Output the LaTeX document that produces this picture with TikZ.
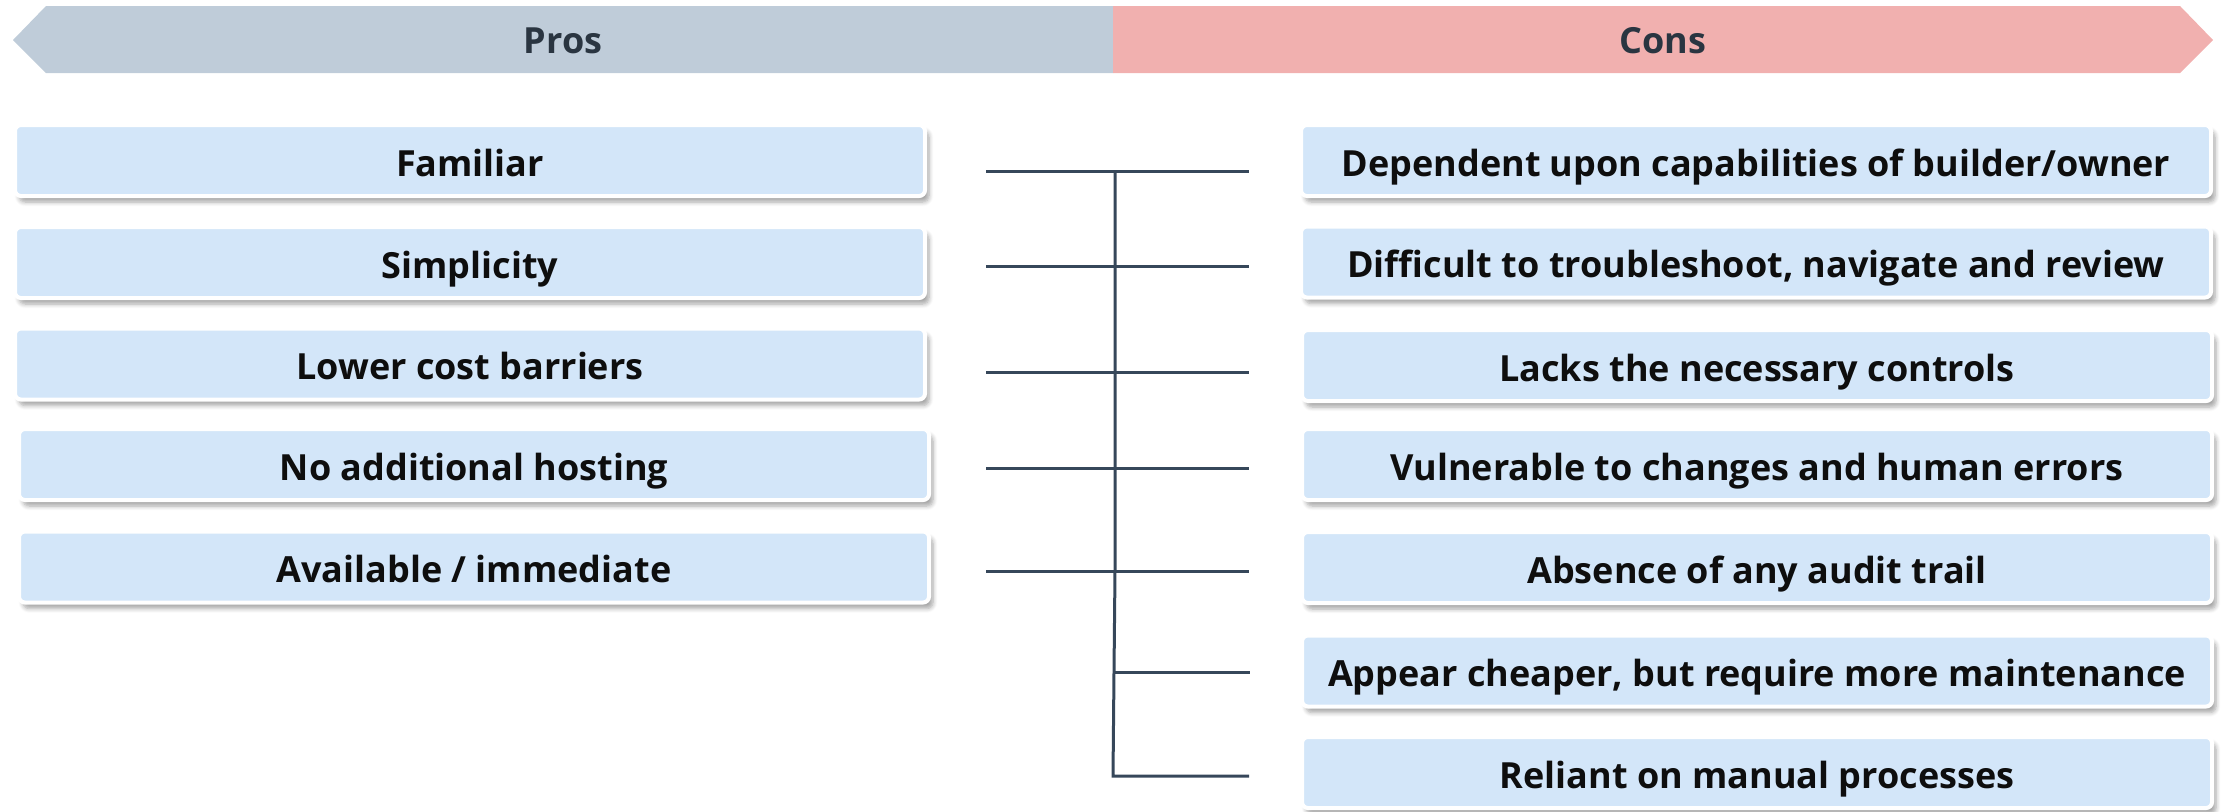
\documentclass[tikz,border=0pt]{standalone}
\usepackage{fontspec}
\setmainfont{Open Sans}
\usetikzlibrary{shadows.blur}
\definecolor{prosband}{HTML}{BFCCD9}
\definecolor{consband}{HTML}{F1B0AF}
\definecolor{boxfill}{HTML}{D3E6F9}
\definecolor{linecol}{HTML}{36475A}
\definecolor{headtxt}{HTML}{2A3541}
\definecolor{boxtxt}{HTML}{0E0E0E}
\tikzset{
  x=0.5pt, y=-0.5pt,
  itembox/.style={draw=white, line width=2pt, fill=boxfill, rounded corners=3pt,
    blur shadow={shadow xshift=2pt, shadow yshift=-3pt, shadow blur steps=6, shadow opacity=35},
    minimum width=455pt, minimum height=35.5pt, inner sep=0pt,
    text height=16.5pt, text depth=1pt,
    font=\fontsize{18}{22}\selectfont\bfseries, text=boxtxt},
  headtext/.style={font=\fontsize{18}{22}\selectfont\bfseries, text=headtxt,
    inner sep=0pt, text height=14.5pt, text depth=1pt},
  conn/.style={draw=linecol, line width=1.5pt},
}
\begin{document}
\begin{tikzpicture}
\useasboundingbox (0,0) rectangle (2226,811);
% banner
\fill[prosband] (13,40) -- (46,6) -- (1113,6) -- (1113,73) -- (46,73) -- cycle;
\fill[consband] (1113,6) -- (2180,6) -- (2213,40) -- (2180,73) -- (1113,73) -- cycle;
\node[headtext] (pros) at (563,39.5) {Pros};
\node[headtext] (cons) at (1663,39.5) {Cons};
% pros boxes
\node[itembox] (p1) at (470,160.5) {Familiar};
\node[itembox] (p2) at (470,262.5) {Simplicity};
\node[itembox] (p3) at (470,364) {Lower cost barriers};
\node[itembox] (p4) at (474,464.5) {No additional hosting};
\node[itembox] (p5) at (474,567) {Available / immediate};
% cons boxes
\node[itembox] (c1) at (1756,160.5) {Dependent upon capabilities of builder/owner};
\node[itembox] (c2) at (1756,262) {Difficult to troubleshoot, navigate and review};
\node[itembox] (c3) at (1757,365.5) {Lacks the necessary controls};
\node[itembox] (c4) at (1757,464.5) {Vulnerable to changes and human errors};
\node[itembox] (c5) at (1757,567.5) {Absence of any audit trail};
\node[itembox] (c6) at (1757,671) {Appear cheaper, but require more maintenance};
\node[itembox] (c7) at (1757,772.5) {Reliant on manual processes};
% connector coordinates
\coordinate (l1) at (986,171); \coordinate (j1) at (1115,171); \coordinate (r1) at (1249,171);
\coordinate (l2) at (986,266); \coordinate (j2) at (1115,266); \coordinate (r2) at (1249,266);
\coordinate (l3) at (986,372); \coordinate (j3) at (1115,372); \coordinate (r3) at (1249,372);
\coordinate (l4) at (986,468); \coordinate (j4) at (1115,468); \coordinate (r4) at (1249,468);
\coordinate (l5) at (986,571); \coordinate (j5) at (1115,571); \coordinate (r5) at (1249,571);
\coordinate (j6) at (1114,672); \coordinate (r6) at (1250,672);
\coordinate (j7) at (1113,776); \coordinate (r7) at (1249,776);
\draw[conn] (l1) -- (r1);
\draw[conn] (l2) -- (r2);
\draw[conn] (l3) -- (r3);
\draw[conn] (l4) -- (r4);
\draw[conn] (l5) -- (r5);
\draw[conn] (j6) -- (r6);
\draw[conn] (j1) -- (j5) -- (j6) -- (j7) -- (r7);
\end{tikzpicture}
\end{document}
